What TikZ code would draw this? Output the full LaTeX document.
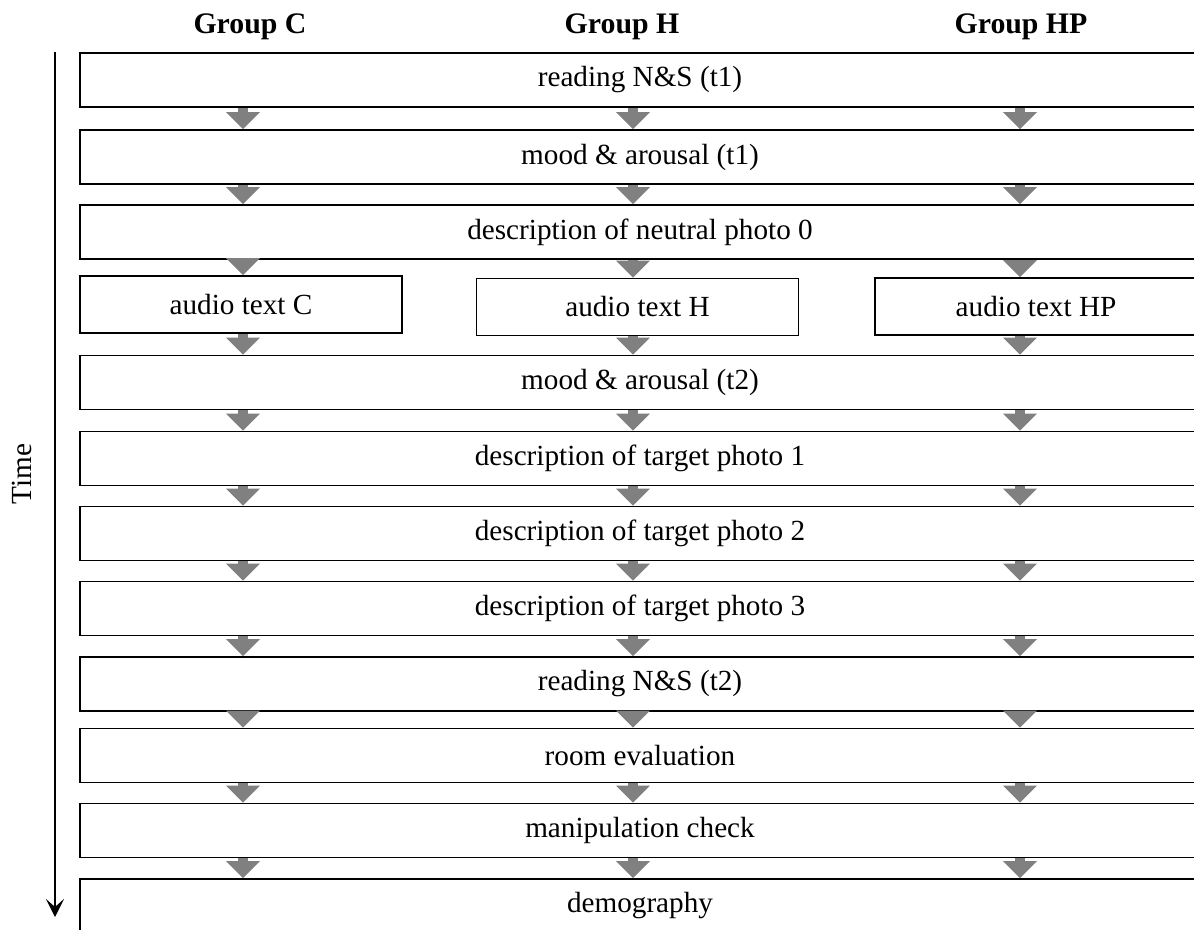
\documentclass[tikz,border=0pt]{standalone}
\usepackage{fontspec}
\setmainfont{Liberation Serif}
\usetikzlibrary{arrows.meta}

\begin{document}
\begin{tikzpicture}[x=0.5pt,y=-0.5pt,
  stagebox/.style={draw,line width=0.9pt,minimum width=560pt,minimum height=27pt,inner sep=0pt,font=\fontsize{14.6}{16}\selectfont},
  audiobox/.style={stagebox,minimum width=161pt,minimum height=28.5pt},
  flow/.style={draw=gray,line width=5pt,-{Triangle[width=16.5pt,length=8.5pt]}},
  grouphead/.style={font=\fontsize{14.9}{17}\selectfont\bfseries}]
\useasboundingbox (0,0) rectangle (1194,930);
\node[grouphead] (gC) at (250,27) {Group C};
\node[grouphead] (gH) at (622,27) {Group H};
\node[grouphead] (gHP) at (1021,27) {Group HP};
\coordinate (cC) at (243,0);
\coordinate (cH) at (633,0);
\coordinate (cHP) at (1020,0);
% stages
\foreach \n/\y/\txt in {r1/80/{reading N\&S (t1)},r2/157/{mood \& arousal (t1)},
    r3/232/{description of neutral photo 0},r5/382.5/{mood \& arousal (t2)},
    r6/458.5/{description of target photo 1},r7/533.5/{description of target photo 2},
    r8/608.5/{description of target photo 3},r9/684/{reading N\&S (t2)},
    r10/755.5/{room evaluation},r11/830.5/{manipulation check},r12/906/{demography}}{
    \node[stagebox] (\n) at (640,\y) {\txt};
}
\node[audiobox] (aC) at (241,304.5) {audio text C};
\node[audiobox] (aH) at (637.5,307) {audio text H};
\node[audiobox] (aHP) at (1036,306.5) {audio text HP};
% arrows
\foreach \a/\b in {r1/r2,r2/r3,r5/r6,r6/r7,r7/r8,r8/r9,r9/r10,r10/r11,r11/r12}{
    \foreach \c in {cC,cH,cHP}{
        \draw[flow] (\a.south -| \c) -- (\b.north -| \c);
    }
}
\draw[flow] (r3.south -| cC) -- (aC.north -| cC);
\draw[flow] (r3.south -| cH) -- (aH.north -| cH);
\draw[flow] (r3.south -| cHP) -- (aHP.north -| cHP);
\draw[flow] (aC.south -| cC) -- (r5.north -| cC);
\draw[flow] (aH.south -| cH) -- (r5.north -| cH);
\draw[flow] (aHP.south -| cHP) -- (r5.north -| cHP);
% time axis
\coordinate (tstart) at (55,52);
\coordinate (tend) at (55,917);
\draw[line width=1pt,-{Stealth[length=9pt,width=9pt,inset=4pt]}] (tstart) -- (tend);
\node[rotate=90,font=\fontsize{14.6}{16}\selectfont] (time) at (22,474) {Time};
\end{tikzpicture}
\end{document}
